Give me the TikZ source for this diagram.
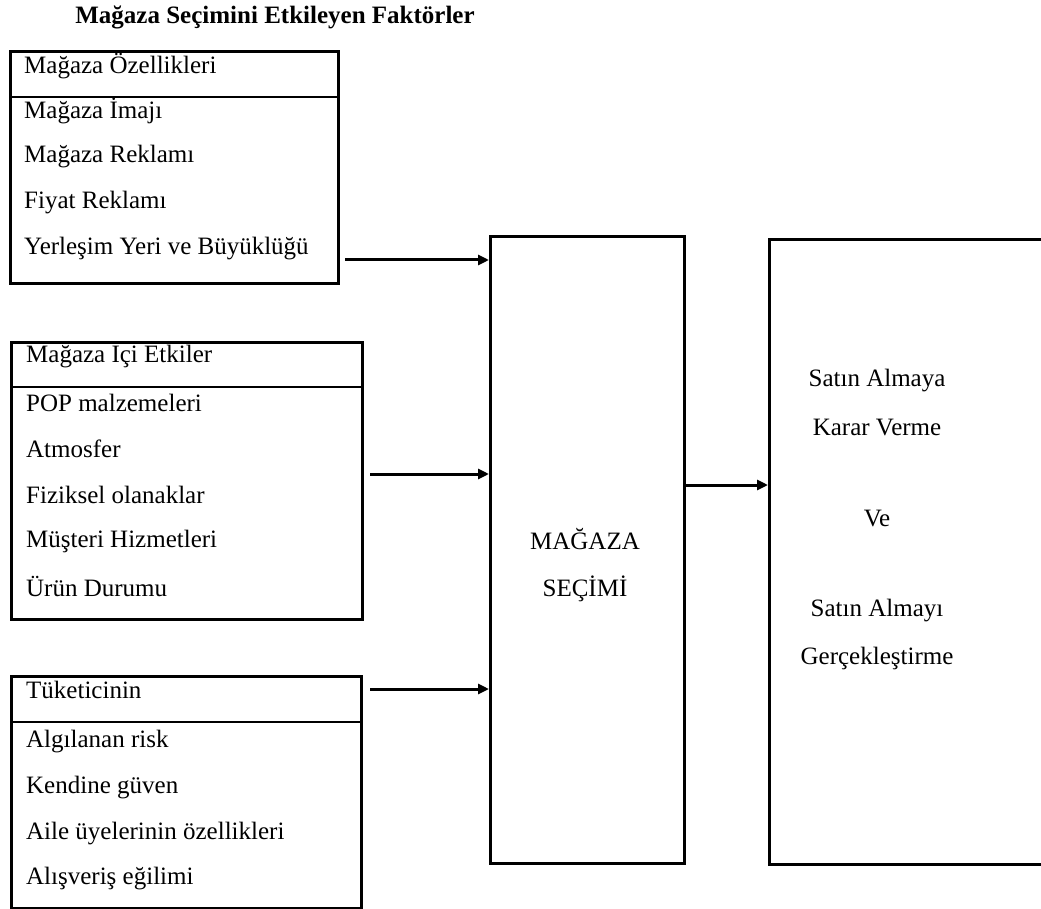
\documentclass[tikz,border=0pt]{standalone}
\usepackage{fontspec}
\setmainfont{Liberation Serif}
\usetikzlibrary{arrows.meta}
\begin{document}
\begin{tikzpicture}[x=1pt,y=-1pt,
  txt/.style={anchor=west,inner sep=0pt,font=\fontsize{25}{29}\selectfont},
  ctxt/.style={anchor=center,inner sep=0pt,font=\fontsize{25}{29}\selectfont},
  framebox/.style={draw,line width=3pt,anchor=north west,inner sep=0pt},
  bigbox/.style={draw,line width=2.6pt,anchor=north west,inner sep=0pt},
  divider/.style={line width=2.6pt},
  conn/.style={line width=3pt,-{Triangle[length=11pt,width=10pt]}}]
\useasboundingbox (0,0) rectangle (1041,909);
\clip (0,0) rectangle (1041,909);
% title
\node[ctxt,font=\fontsize{25}{29}\selectfont\bfseries] (title) at (275,17) {Mağaza Seçimini Etkileyen Faktörler};
% box 1
\node[framebox,minimum width=328pt,minimum height=232pt] (b1) at (9,50) {};
\draw[divider] (b1.west |- 0,97) coordinate (d1a) -- (b1.east |- 0,97) coordinate (d1b);
\node[txt] (b1t0) at (24,66) {Mağaza Özellikleri};
\node[txt] (b1t1) at (24,111) {Mağaza İmajı};
\node[txt] (b1t2) at (24,157) {Mağaza Reklamı};
\node[txt] (b1t3) at (24,203) {Fiyat Reklamı};
\node[txt] (b1t4) at (24,249) {Yerleşim Yeri ve Büyüklüğü};
% box 2
\node[framebox,minimum width=351pt,minimum height=277pt] (b2) at (10,341) {};
\draw[divider] (b2.west |- 0,387) -- (b2.east |- 0,387);
\node[txt] (b2t0) at (26,355) {Mağaza İçi Etkiler};
\node[txt] (b2t1) at (26,403) {POP malzemeleri};
\node[txt] (b2t2) at (26,449) {Atmosfer};
\node[txt] (b2t3) at (26,495) {Fiziksel olanaklar};
\node[txt] (b2t4) at (26,541) {Müşteri Hizmetleri};
\node[txt] (b2t5) at (26,586) {Ürün Durumu};
% box 3
\node[framebox,minimum width=350pt,minimum height=232pt] (b3) at (10,675) {};
\draw[divider] (b3.west |- 0,722) -- (b3.east |- 0,722);
\node[txt] (b3t0) at (26,690) {Tüketicinin};
\node[txt] (b3t1) at (26,742) {Algılanan risk};
\node[txt] (b3t2) at (26,788) {Kendine güven};
\node[txt] (b3t3) at (26,834) {Aile üyelerinin özellikleri};
\node[txt] (b3t4) at (26,879) {Alışveriş eğilimi};
% middle box
\node[bigbox,minimum width=194pt,minimum height=627pt] (mid) at (489,235) {};
\node[ctxt] (midt1) at (585,539) {MAĞAZA};
\node[ctxt] (midt2) at (585,589) {SEÇİMİ};
% right box
\node[framebox,minimum width=300pt,minimum height=625pt] (right) at (768,238) {};
\node[ctxt] (r1) at (877,381) {Satın Almaya};
\node[ctxt] (r2) at (877,428) {Karar Verme};
\node[ctxt] (r3) at (877,519) {Ve};
\node[ctxt] (r4) at (877,611) {Satın Almayı};
\node[ctxt] (r5) at (877,658) {Gerçekleştirme};
% connectors
\coordinate (s1) at (345,260);
\coordinate (s2) at (370,474);
\coordinate (s3) at (370,689);
\draw[conn] (s1) -- (s1 -| mid.west);
\draw[conn] (s2) -- (s2 -| mid.west);
\draw[conn] (s3) -- (s3 -| mid.west);
\draw[conn] (mid.east |- 0,485) -- (right.west |- 0,485);
\end{tikzpicture}
\end{document}
